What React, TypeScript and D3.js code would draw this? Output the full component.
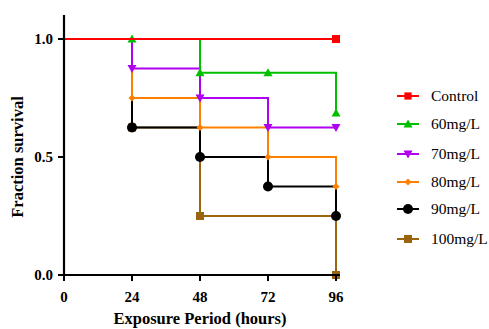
import React from "react";
import * as d3 from "d3";

const width = 489;
const height = 329;
const margin = { top: 15, right: 149, bottom: 54, left: 64 };

const timePoints = [0, 24, 48, 72, 96];
const xTicks = [0, 24, 48, 72, 96];
const yTicks = [0, 0.5, 1.0];

const seriesNames = ["Control", "60mg/L", "70mg/L", "80mg/L", "90mg/L", "100mg/L"];
const seriesColors = ["#ff0000", "#00c000", "#b000f0", "#ff8000", "#000000", "#9b6410"];
const seriesSymbols = ["square", "triangle", "triangleDown", "diamond", "circle", "square"];

// survival at each time point (0, 24, 48, 72, 96)
const control = [1, 1, 1, 1, 1];
const mg60 = [1, 1, 0.857, 0.857, 0.686];
const mg70 = [1, 0.875, 0.75, 0.625, 0.625];
const mg80 = [1, 0.75, 0.625, 0.5, 0.375];
const mg90 = [1, 0.625, 0.5, 0.375, 0.25];
const mg100 = [1, 0.625, 0.25, 0.25, 0];

// which time points carry a marker
const controlMarks = [96];
const mg60Marks = [24, 48, 72, 96];
const mg70Marks = [24, 48, 72, 96];
const mg80Marks = [24, 48, 72, 96];
const mg90Marks = [24, 48, 72, 96];
const mg100Marks = [24, 48, 96];

const allValues = [control, mg60, mg70, mg80, mg90, mg100];
const allMarks = [controlMarks, mg60Marks, mg70Marks, mg80Marks, mg90Marks, mg100Marks];

const x = d3.scaleLinear().domain([0, 96]).range([margin.left, 336]);
const y = d3.scaleLinear().domain([0, 1]).range([275, 39]);

const serif = "Liberation Serif";

function Marker({ type, cx, cy, color, size = 1 }) {
  if (type === "square") {
    const s = 8 * size;
    return <rect x={cx - s / 2} y={cy - s / 2} width={s} height={s} fill={color} />;
  }
  if (type === "circle") {
    return <circle cx={cx} cy={cy} r={5 * size} fill={color} />;
  }
  if (type === "diamond") {
    const s = 3.5 * size;
    return <path d={`M${cx},${cy - s}L${cx + s},${cy}L${cx},${cy + s}L${cx - s},${cy}Z`} fill={color} />;
  }
  const h = 7 * size;
  const w = 4.5 * size;
  if (type === "triangle") {
    return <path d={`M${cx},${cy - h / 2 - 1}L${cx + w},${cy + h / 2}L${cx - w},${cy + h / 2}Z`} fill={color} />;
  }
  return <path d={`M${cx},${cy + h / 2 + 1}L${cx + w},${cy - h / 2}L${cx - w},${cy - h / 2}Z`} fill={color} />;
}

function stepPath(values) {
  const pts = [];
  timePoints.forEach((t, i) => {
    if (i === 0) {
      pts.push([x(t), y(values[i])]);
    } else {
      pts.push([x(t), y(values[i - 1])]);
      pts.push([x(t), y(values[i])]);
    }
  });
  return d3.line()(pts);
}

export default function App() {
  const order = [5, 4, 3, 2, 1, 0];
  const tickStyle = { fontFamily: serif, fontWeight: 700, fontSize: 15 };
  const titleStyle = { fontFamily: serif, fontWeight: 700, fontSize: 16.5 };
  return (
    <svg width={width} height={height} style={{ position: "absolute", left: 0, top: 0 }}>
      <rect width={width} height={height} fill="#fff" />
      {order.map((k) => (
        <g key={k}>
          <path d={stepPath(allValues[k])} fill="none" stroke={seriesColors[k]} strokeWidth={2} />
          {allMarks[k].map((t) => (
            <Marker
              key={t}
              type={seriesSymbols[k]}
              cx={x(t)}
              cy={y(allValues[k][timePoints.indexOf(t)])}
              color={seriesColors[k]}
            />
          ))}
        </g>
      ))}

      {/* axes */}
      <line x1={margin.left} x2={margin.left} y1={margin.top} y2={276} stroke="#000" strokeWidth={2.2} />
      <line x1={margin.left - 1} x2={340} y1={275} y2={275} stroke="#000" strokeWidth={2.2} />
      {yTicks.map((t) => (
        <g key={t}>
          <line x1={margin.left - 6} x2={margin.left} y1={y(t)} y2={y(t)} stroke="#000" strokeWidth={2} />
          <text x={margin.left - 11} y={y(t)} dy="0.35em" textAnchor="end" style={tickStyle}>
            {d3.format(".1f")(t)}
          </text>
        </g>
      ))}
      {xTicks.map((t) => (
        <g key={t}>
          <line x1={x(t)} x2={x(t)} y1={275} y2={281} stroke="#000" strokeWidth={2} />
          <text x={x(t)} y={302} textAnchor="middle" style={tickStyle}>
            {t}
          </text>
        </g>
      ))}
      <text transform={`translate(23,${y(0.5)}) rotate(-90)`} textAnchor="middle" style={titleStyle}>
        Fraction survival
      </text>
      <text x={200} y={324} textAnchor="middle" style={titleStyle}>
        Exposure Period (hours)
      </text>

      {/* legend */}
      {seriesNames.map((name, k) => {
        const ly = [96, 124, 154, 182, 209, 239][k];
        return (
          <g key={name}>
            <line x1={397} x2={419} y1={ly} y2={ly} stroke={seriesColors[k]} strokeWidth={2} />
            <Marker type={seriesSymbols[k]} cx={408} cy={ly} color={seriesColors[k]} size={k === 0 ? 0.9 : 1} />
            <text x={431} y={ly} dy="0.35em" style={{ fontFamily: serif, fontSize: 15.5 }}>
              {name}
            </text>
          </g>
        );
      })}
    </svg>
  );
}
